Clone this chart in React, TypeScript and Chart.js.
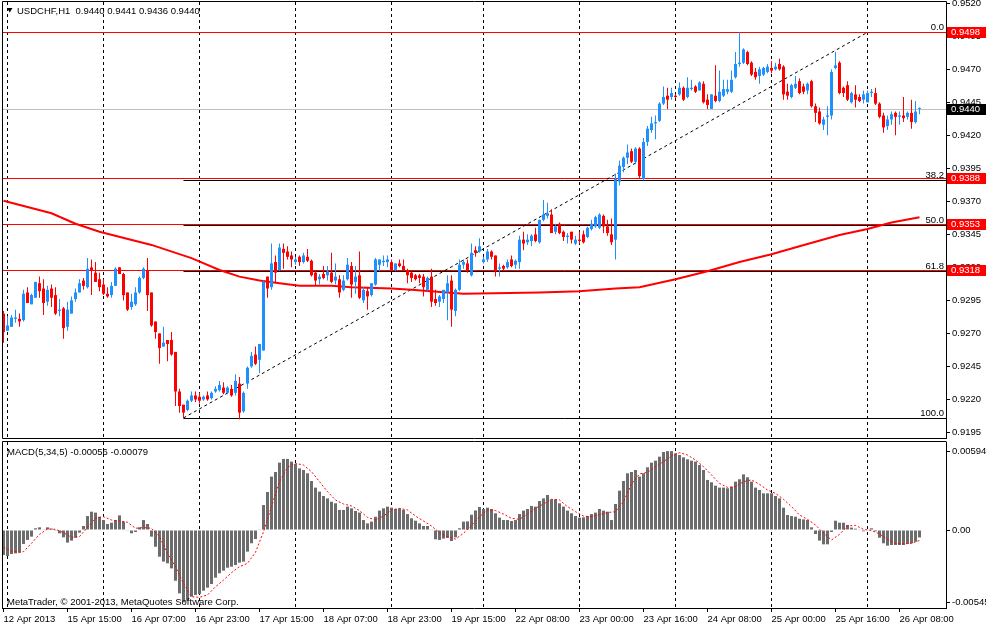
import React, { useEffect, useRef } from "react";
import { Chart, registerables } from "chart.js";

Chart.register(...registerables);

const FONT_FAMILY = '"Liberation Sans", Arial, sans-serif';
const FONT_SIZE = 9.5;

// ---------- price data (USDCHF H1), bar index 0 = 12 Apr 2013 23:00 ----------
const OPEN = [
  0.9285,0.9272,0.9275,0.9281,0.9281,0.9280,0.9301,0.9292,0.9297,0.9308,
  0.9304,0.9294,0.9304,0.9299,0.9287,0.9289,0.9275,0.9285,0.9296,0.9301,
  0.9310,0.9305,0.9320,0.9316,0.9311,0.9307,0.9300,0.9299,0.9306,0.9320,
  0.9315,0.9301,0.9290,0.9292,0.9301,0.9312,0.9318,0.9301,0.9279,0.9270,
  0.9260,0.9265,0.9265,0.9256,0.9226,0.9216,0.9212,0.9219,0.9223,0.9222,
  0.9220,0.9223,0.9221,0.9226,0.9227,0.9229,0.9225,0.9228,0.9225,0.9232,
  0.9211,0.9232,0.9245,0.9254,0.9250,0.9257,0.9313,0.9305,0.9324,0.9318,
  0.9334,0.9332,0.9329,0.9324,0.9328,0.9324,0.9328,0.9325,0.9316,0.9311,
  0.9315,0.9314,0.9316,0.9310,0.9311,0.9303,0.9311,0.9321,0.9309,0.9314,
  0.9295,0.9302,0.9299,0.9307,0.9322,0.9324,0.9324,0.9324,0.9318,0.9323,
  0.9321,0.9318,0.9316,0.9314,0.9314,0.9313,0.9303,0.9313,0.9296,0.9294,
  0.9296,0.9301,0.9310,0.9287,0.9303,0.9322,0.9323,0.9314,0.9333,0.9332,
  0.9324,0.9326,0.9332,0.9329,0.9319,0.9321,0.9320,0.9326,0.9322,0.9324,
  0.9341,0.9339,0.9340,0.9345,0.9339,0.9356,0.9359,0.9360,0.9347,0.9353,
  0.9347,0.9343,0.9347,0.9338,0.9341,0.9345,0.9343,0.9349,0.9351,0.9350,
  0.9359,0.9351,0.9345,0.9341,0.9385,0.9396,0.9403,0.9408,0.9400,0.9410,
  0.9387,0.9415,0.9424,0.9429,0.9431,0.9444,0.9450,0.9449,0.9450,0.9451,
  0.9456,0.9449,0.9455,0.9457,0.9454,0.9459,0.9447,0.9440,0.9450,0.9446,
  0.9450,0.9453,0.9453,0.9464,0.9474,0.9475,0.9483,0.9475,0.9468,0.9465,
  0.9466,0.9468,0.9471,0.9470,0.9474,0.9472,0.9453,0.9449,0.9456,0.9461,
  0.9457,0.9454,0.9461,0.9442,0.9438,0.9428,0.9434,0.9435,0.9471,0.9475,
  0.9456,0.9458,0.9445,0.9451,0.9449,0.9447,0.9445,0.9452,0.9452,0.9444,
  0.9435,0.9427,0.9432,0.9437,0.9434,0.9435,0.9434,0.9437,0.9430,0.9440,
];
const HIGH = [
  0.9287,0.9283,0.9284,0.9288,0.9285,0.9303,0.9305,0.9300,0.9309,0.9313,
  0.9311,0.9306,0.9307,0.9305,0.9296,0.9290,0.9294,0.9298,0.9304,0.9311,
  0.9312,0.9327,0.9326,0.9324,0.9316,0.9311,0.9305,0.9309,0.9320,0.9320,
  0.9316,0.9301,0.9300,0.9305,0.9313,0.9320,0.9327,0.9301,0.9279,0.9270,
  0.9275,0.9265,0.9271,0.9256,0.9228,0.9216,0.9220,0.9226,0.9226,0.9225,
  0.9223,0.9226,0.9226,0.9230,0.9234,0.9233,0.9230,0.9231,0.9239,0.9237,
  0.9226,0.9245,0.9256,0.9260,0.9262,0.9310,0.9313,0.9338,0.9329,0.9338,
  0.9338,0.9336,0.9332,0.9328,0.9329,0.9331,0.9334,0.9326,0.9317,0.9315,
  0.9321,0.9321,0.9331,0.9323,0.9314,0.9314,0.9327,0.9324,0.9321,0.9332,
  0.9305,0.9305,0.9308,0.9327,0.9326,0.9329,0.9329,0.9326,0.9323,0.9326,
  0.9326,0.9319,0.9317,0.9315,0.9315,0.9315,0.9313,0.9319,0.9303,0.9299,
  0.9303,0.9314,0.9314,0.9304,0.9326,0.9326,0.9326,0.9338,0.9336,0.9342,
  0.9328,0.9334,0.9333,0.9329,0.9323,0.9322,0.9326,0.9329,0.9326,0.9344,
  0.9347,0.9345,0.9345,0.9350,0.9356,0.9371,0.9369,0.9364,0.9353,0.9354,
  0.9348,0.9346,0.9347,0.9344,0.9347,0.9348,0.9351,0.9356,0.9359,0.9361,
  0.9360,0.9356,0.9357,0.9391,0.9401,0.9404,0.9413,0.9410,0.9411,0.9411,
  0.9418,0.9427,0.9434,0.9435,0.9445,0.9457,0.9456,0.9456,0.9451,0.9460,
  0.9457,0.9464,0.9462,0.9458,0.9461,0.9461,0.9451,0.9451,0.9473,0.9469,
  0.9462,0.9462,0.9469,0.9483,0.9498,0.9486,0.9484,0.9476,0.9471,0.9472,
  0.9472,0.9474,0.9476,0.9475,0.9478,0.9473,0.9459,0.9459,0.9465,0.9463,
  0.9459,0.9460,0.9462,0.9444,0.9441,0.9434,0.9442,0.9470,0.9483,0.9476,
  0.9457,0.9461,0.9453,0.9458,0.9451,0.9454,0.9454,0.9455,0.9456,0.9445,
  0.9437,0.9435,0.9438,0.9438,0.9438,0.9449,0.9438,0.9447,0.9446,0.9441,
];
const LOW = [
  0.9263,0.9272,0.9275,0.9278,0.9275,0.9279,0.9293,0.9292,0.9297,0.9297,
  0.9284,0.9291,0.9290,0.9284,0.9283,0.9266,0.9272,0.9285,0.9294,0.9301,
  0.9303,0.9304,0.9299,0.9309,0.9302,0.9299,0.9297,0.9297,0.9306,0.9315,
  0.9295,0.9287,0.9288,0.9291,0.9300,0.9311,0.9287,0.9275,0.9266,0.9247,
  0.9260,0.9249,0.9253,0.9215,0.9210,0.9206,0.9211,0.9218,0.9218,0.9217,
  0.9219,0.9219,0.9220,0.9225,0.9226,0.9224,0.9224,0.9222,0.9223,0.9205,
  0.9210,0.9228,0.9244,0.9246,0.9240,0.9257,0.9297,0.9303,0.9308,0.9317,
  0.9319,0.9326,0.9320,0.9322,0.9321,0.9323,0.9324,0.9313,0.9306,0.9307,
  0.9311,0.9310,0.9308,0.9307,0.9297,0.9302,0.9310,0.9297,0.9300,0.9296,
  0.9293,0.9288,0.9298,0.9306,0.9317,0.9321,0.9320,0.9317,0.9317,0.9320,
  0.9317,0.9308,0.9309,0.9310,0.9308,0.9298,0.9302,0.9290,0.9291,0.9290,
  0.9293,0.9280,0.9275,0.9283,0.9302,0.9319,0.9316,0.9313,0.9328,0.9331,
  0.9323,0.9324,0.9326,0.9313,0.9313,0.9318,0.9319,0.9320,0.9319,0.9319,
  0.9333,0.9337,0.9336,0.9339,0.9338,0.9355,0.9357,0.9346,0.9345,0.9345,
  0.9340,0.9338,0.9338,0.9337,0.9338,0.9338,0.9342,0.9348,0.9350,0.9349,
  0.9346,0.9344,0.9337,0.9326,0.9382,0.9392,0.9398,0.9399,0.9398,0.9387,
  0.9386,0.9412,0.9422,0.9417,0.9430,0.9443,0.9440,0.9447,0.9448,0.9450,
  0.9446,0.9448,0.9454,0.9452,0.9454,0.9444,0.9440,0.9440,0.9445,0.9445,
  0.9449,0.9451,0.9452,0.9463,0.9472,0.9474,0.9473,0.9465,0.9462,0.9459,
  0.9465,0.9467,0.9467,0.9469,0.9469,0.9447,0.9447,0.9448,0.9455,0.9451,
  0.9451,0.9451,0.9441,0.9430,0.9428,0.9424,0.9420,0.9432,0.9470,0.9451,
  0.9449,0.9446,0.9444,0.9441,0.9445,0.9444,0.9445,0.9449,0.9443,0.9433,
  0.9422,0.9424,0.9428,0.9420,0.9428,0.9430,0.9432,0.9425,0.9429,0.9436,
];
const CLOSE = [
  0.9271,0.9276,0.9282,0.9282,0.9279,0.9300,0.9293,0.9299,0.9309,0.9302,
  0.9293,0.9303,0.9297,0.9285,0.9288,0.9274,0.9288,0.9295,0.9301,0.9308,
  0.9306,0.9319,0.9318,0.9309,0.9305,0.9300,0.9298,0.9306,0.9319,0.9315,
  0.9299,0.9288,0.9294,0.9301,0.9312,0.9319,0.9299,0.9276,0.9271,0.9259,
  0.9263,0.9262,0.9254,0.9226,0.9215,0.9210,0.9219,0.9223,0.9220,0.9219,
  0.9222,0.9220,0.9225,0.9228,0.9231,0.9225,0.9229,0.9223,0.9234,0.9210,
  0.9225,0.9244,0.9253,0.9247,0.9262,0.9309,0.9304,0.9323,0.9316,0.9335,
  0.9331,0.9328,0.9326,0.9326,0.9324,0.9329,0.9325,0.9314,0.9310,0.9313,
  0.9312,0.9317,0.9309,0.9313,0.9301,0.9310,0.9322,0.9307,0.9313,0.9297,
  0.9303,0.9298,0.9308,0.9326,0.9326,0.9325,0.9326,0.9318,0.9323,0.9321,
  0.9318,0.9314,0.9312,0.9311,0.9312,0.9305,0.9312,0.9294,0.9293,0.9298,
  0.9303,0.9308,0.9288,0.9303,0.9322,0.9324,0.9318,0.9331,0.9331,0.9336,
  0.9326,0.9332,0.9328,0.9317,0.9320,0.9319,0.9324,0.9321,0.9325,0.9341,
  0.9338,0.9341,0.9344,0.9340,0.9356,0.9360,0.9361,0.9346,0.9351,0.9346,
  0.9343,0.9344,0.9341,0.9341,0.9340,0.9339,0.9350,0.9353,0.9358,0.9360,
  0.9351,0.9346,0.9339,0.9387,0.9397,0.9403,0.9407,0.9400,0.9410,0.9389,
  0.9415,0.9425,0.9429,0.9430,0.9444,0.9449,0.9447,0.9452,0.9449,0.9456,
  0.9447,0.9456,0.9456,0.9453,0.9460,0.9445,0.9443,0.9451,0.9446,0.9453,
  0.9455,0.9455,0.9462,0.9474,0.9475,0.9485,0.9474,0.9466,0.9464,0.9470,
  0.9471,0.9472,0.9469,0.9472,0.9470,0.9451,0.9450,0.9458,0.9459,0.9452,
  0.9453,0.9459,0.9442,0.9437,0.9429,0.9432,0.9435,0.9468,0.9473,0.9452,
  0.9452,0.9447,0.9452,0.9447,0.9446,0.9451,0.9452,0.9453,0.9444,0.9434,
  0.9426,0.9432,0.9436,0.9434,0.9435,0.9433,0.9437,0.9430,0.9438,0.9440,
];

// moving average (red), read at sampled bars
const MA_BARS = [0, 12, 18, 24, 37, 47, 54, 59, 64, 69, 74, 82, 87, 97, 102, 115, 134, 144, 153, 159, 168, 176, 184, 192, 199, 209, 216, 222, 229];
const MA_VALUES = [0.93705, 0.9361, 0.9353, 0.9347, 0.9337, 0.9327, 0.9318, 0.9313, 0.9310, 0.9308, 0.9306, 0.9306, 0.9305, 0.9304, 0.9303, 0.9300, 0.9301, 0.9302, 0.9304, 0.9305, 0.9311, 0.9317, 0.9324, 0.9330, 0.9336, 0.93445, 0.9349, 0.9354, 0.9358];

// MACD(5,34,5) histogram, one value per bar
const MACD_HIST = [
  -0.00188,-0.00196,-0.00181,-0.00176,-0.00171,-0.00105,-0.00075,-0.00050,0.00013,0.00020,
  0.00005,0.00020,0.00010,-0.00002,-0.00025,-0.00055,-0.00095,-0.00080,-0.00058,-0.00020,
  0.00030,0.00105,0.00138,0.00131,0.00100,0.00075,0.00045,0.00055,0.00075,0.00110,
  0.00063,-0.00005,-0.00025,-0.00015,0.00020,0.00075,0.00045,-0.00050,-0.00126,-0.00201,
  -0.00238,-0.00251,-0.00289,-0.00382,-0.00477,-0.00545,-0.00532,-0.00502,-0.00489,-0.00482,
  -0.00457,-0.00434,-0.00407,-0.00359,-0.00326,-0.00306,-0.00284,-0.00276,-0.00264,-0.00246,
  -0.00238,-0.00163,-0.00100,-0.00068,0.00005,0.00188,0.00286,0.00402,0.00437,0.00507,
  0.00535,0.00535,0.00515,0.00497,0.00464,0.00452,0.00427,0.00369,0.00319,0.00289,
  0.00256,0.00238,0.00213,0.00201,0.00151,0.00151,0.00176,0.00163,0.00143,0.00131,
  0.00075,0.00050,0.00063,0.00100,0.00146,0.00163,0.00176,0.00168,0.00158,0.00163,
  0.00151,0.00120,0.00088,0.00070,0.00050,0.00030,0.00030,0.00005,-0.00070,-0.00075,
  -0.00065,-0.00060,-0.00083,-0.00055,0.00013,0.00063,0.00065,0.00115,0.00147,0.00173,
  0.00158,0.00168,0.00158,0.00126,0.00093,0.00075,0.00075,0.00068,0.00075,0.00120,
  0.00146,0.00158,0.00181,0.00176,0.00218,0.00238,0.00264,0.00231,0.00231,0.00201,
  0.00176,0.00146,0.00126,0.00105,0.00093,0.00095,0.00105,0.00120,0.00131,0.00158,
  0.00146,0.00138,0.00075,0.00196,0.00296,0.00369,0.00427,0.00437,0.00452,0.00402,
  0.00427,0.00472,0.00507,0.00522,0.00552,0.00587,0.00594,0.00594,0.00577,0.00565,
  0.00547,0.00532,0.00522,0.00515,0.00489,0.00452,0.00377,0.00359,0.00334,0.00319,
  0.00319,0.00314,0.00326,0.00364,0.00382,0.00419,0.00397,0.00364,0.00319,0.00301,
  0.00276,0.00276,0.00276,0.00256,0.00238,0.00168,0.00113,0.00105,0.00100,0.00085,
  0.00080,0.00075,0.00020,-0.00030,-0.00080,-0.00108,-0.00108,-0.00015,0.00070,0.00055,
  0.00055,0.00038,0.00018,0.00010,0.00005,-0.00010,-0.00003,0.00013,-0.00010,-0.00058,
  -0.00100,-0.00118,-0.00113,-0.00113,-0.00113,-0.00113,-0.00105,-0.00100,-0.00088,-0.00056,
];

// MACD signal line, read at sampled bars
const SIGNAL_BARS = [0,2,4,5,7,9,11,13,15,17,19,21,23,25,27,29,31,33,35,37,39,41,43,45,47,49,51,53,55,57,59,61,63,65,67,69,71,73,75,77,79,81,83,85,87,89,91,93,95,97,99,101,103,105,107,109,111,113,115,117,119,121,123,125,127,129,131,133,135,137,139,141,143,145,147,149,151,153,155,157,159,161,163,165,167,169,171,173,175,177,179,181,183,185,187,189,191,193,195,197,199,201,203,205,207,209,211,213,215,217,219,221,223,225,227,229];
const SIGNAL_VALUES = [-0.00131,-0.00158,-0.00168,-0.00163,-0.00100,-0.00033,0.00008,0.00005,-0.00020,-0.00055,-0.00050,0.00020,0.00088,0.00100,0.00075,0.00068,0.00058,0.00013,0.00018,0.00013,-0.00050,-0.00176,-0.00276,-0.00402,-0.00502,-0.00507,-0.00489,-0.00427,-0.00377,-0.00321,-0.00276,-0.00251,-0.00168,-0.00013,0.00176,0.00364,0.00472,0.00502,0.00489,0.00439,0.00364,0.00289,0.00226,0.00196,0.00181,0.00146,0.00095,0.00075,0.00105,0.00151,0.00163,0.00151,0.00105,0.00068,0.00030,-0.00020,-0.00050,-0.00068,-0.00025,0.00035,0.00100,0.00151,0.00146,0.00120,0.00088,0.00080,0.00120,0.00163,0.00196,0.00231,0.00226,0.00176,0.00138,0.00105,0.00100,0.00115,0.00131,0.00138,0.00213,0.00346,0.00422,0.00434,0.00477,0.00515,0.00557,0.00582,0.00565,0.00527,0.00477,0.00414,0.00351,0.00321,0.00326,0.00364,0.00377,0.00344,0.00301,0.00276,0.00231,0.00176,0.00113,0.00080,0.00038,-0.00025,-0.00075,-0.00033,0.00030,0.00035,0.00005,-0.00003,-0.00030,-0.00070,-0.00100,-0.00105,-0.00100,-0.00079];

// axes
const DAY_START_BARS = [1, 25, 49, 73, 97, 120, 144, 168, 192, 216];
const TIME_TICK_BARS = [0, 16, 32, 48, 64, 80, 96, 112, 128, 144, 160, 176, 192, 208, 224];
const TIME_LABELS = ["12 Apr 2013", "15 Apr 15:00", "16 Apr 07:00", "16 Apr 23:00", "17 Apr 15:00", "18 Apr 07:00", "18 Apr 23:00", "19 Apr 15:00", "22 Apr 08:00", "23 Apr 00:00", "23 Apr 16:00", "24 Apr 08:00", "25 Apr 00:00", "25 Apr 16:00", "26 Apr 08:00"];
const PRICE_TICKS = [0.9195, 0.9220, 0.9245, 0.9270, 0.9295, 0.9320, 0.9345, 0.9370, 0.9395, 0.9420, 0.9445, 0.9470, 0.9495, 0.9520];
const MACD_TICKS = [-0.00545, 0, 0.00594];

// objects
const HLINE_PRICES = [0.9498, 0.9388, 0.9353, 0.9318];
const FIB_LEVELS = [0.9498, 0.93865, 0.9352, 0.93175, 0.9206];
const FIB_LABELS = ["0.0", "38.2", "50.0", "61.8", "100.0"];
const FIB_START_BAR = 45;
const FIB_TREND_BARS = [45, 216];
const FIB_TREND_PRICES = [0.9206, 0.9498];
const BID_PRICE = 0.9440;
const TAG_PRICES = [0.9498, 0.9388, 0.9353, 0.9318, 0.9440];
const TAG_COLORS = ["#ff0000", "#ff0000", "#ff0000", "#ff0000", "#000000"];

const HEADER = "USDCHF,H1  0.9440 0.9441 0.9436 0.9440";
const MACD_TITLE = "MACD(5,34,5) -0.00056 -0.00079";
const COPYRIGHT = "MetaTrader, \u00A9 2001-2013, MetaQuotes Software Corp.";

const X_MIN = -0.375;
const X_MAX = 235.625;
const PRICE_MIN = 0.919079;
const PRICE_MAX = 0.952095;
const MACD_MIN = -0.005873;
const MACD_MAX = 0.006626;

const BULL = "#1e90ff";
const BEAR = "#ff0000";

const font = `${FONT_SIZE}px ${FONT_FAMILY}`;

const fixY = (w: number) => (scale: any) => {
  scale.width = w;
  scale.paddingTop = 0;
  scale.paddingBottom = 0;
};
const fixX = (h: number) => (scale: any) => {
  scale.height = h;
  scale.paddingLeft = 0;
  scale.paddingRight = 0;
};
const setTicks = (values: number[]) => (scale: any) => {
  scale.ticks = values.map((v) => ({ value: v }));
};

const hline = (y: number, x0: number, color: string, order: number) => ({
  type: "line",
  data: [{ x: x0, y }, { x: X_MAX, y }],
  borderColor: color,
  borderWidth: 1,
  pointRadius: 0,
  fill: false,
  order,
  snapY: true,
  xAxisID: "x",
  yAxisID: "y",
});

// keeps 1px horizontal object lines on whole pixel rows
const snapPlugin = {
  id: "snapLines",
  beforeDatasetDraw(chart: any, args: any) {
    const ds = chart.data.datasets[args.index];
    if (!ds.snapY) return;
    const y = chart.scales.y.getPixelForValue(ds.data[0].y);
    chart.ctx.save();
    chart.ctx.translate(0, Math.round(y) + 0.5 - y);
  },
  afterDatasetDraw(chart: any, args: any) {
    const ds = chart.data.datasets[args.index];
    if (ds.snapY) chart.ctx.restore();
  },
};

const dayGridAxis = () => ({
  type: "linear",
  position: "top",
  min: X_MIN,
  max: X_MAX,
  offset: false,
  grid: { display: true, color: "#000", lineWidth: 1, drawTicks: false, drawOnChartArea: true, offset: false },
  border: { display: false, dash: [3, 3] },
  ticks: { display: false },
  afterBuildTicks: setTicks(DAY_START_BARS),
  afterFit: fixX(0),
});

function mainConfig(): any {
  const colors = OPEN.map((o, i) => (CLOSE[i] >= o ? BULL : BEAR));
  const bodies = {
    type: "bar",
    data: OPEN.map((o, i) => ({ x: i, y: [o, CLOSE[i]] })),
    backgroundColor: colors,
    borderWidth: 0,
    barThickness: 3,
    grouped: false,
    inflateAmount: 0,
    minBarLength: 1,
    order: 0,
    xAxisID: "x",
    yAxisID: "y",
  };
  const wicks = {
    type: "bar",
    data: LOW.map((l, i) => ({ x: i, y: [l, HIGH[i]] })),
    backgroundColor: colors,
    borderWidth: 0,
    barThickness: 1,
    grouped: false,
    inflateAmount: 0,
    minBarLength: 1,
    order: 1,
    xAxisID: "x",
    yAxisID: "y",
  };
  const ma = {
    type: "line",
    data: MA_BARS.map((b, k) => ({ x: b, y: MA_VALUES[k] })),
    borderColor: "#ff0000",
    borderWidth: 2,
    pointRadius: 0,
    tension: 0,
    fill: false,
    order: 2,
    xAxisID: "x",
    yAxisID: "y",
  };
  const trend = {
    type: "line",
    data: FIB_TREND_BARS.map((b, k) => ({ x: b, y: FIB_TREND_PRICES[k] })),
    borderColor: "#000",
    borderWidth: 1,
    borderDash: [3, 3],
    pointRadius: 0,
    fill: false,
    order: 3,
    xAxisID: "x",
    yAxisID: "y",
  };
  const redLines = HLINE_PRICES.map((p) => hline(p, X_MIN, "#ff0000", 5));
  const fibLines = FIB_LEVELS.map((p) => hline(p, FIB_START_BAR, "#000000", 6));
  const bid = hline(BID_PRICE, X_MIN, "#c0c0c0", 7);

  const overlay = {
    id: "mainOverlay",
    afterDraw(chart: any) {
      const ctx = chart.ctx;
      const { left, right, top, bottom } = chart.chartArea;
      const ys = chart.scales.y;
      ctx.save();
      ctx.setLineDash([]);
      ctx.strokeStyle = "#000";
      ctx.lineWidth = 1;
      ctx.beginPath();
      ctx.moveTo(left + 0.5, top - 0.5);
      ctx.lineTo(right + 0.5, top - 0.5);
      ctx.moveTo(left + 0.5, top - 0.5);
      ctx.lineTo(left + 0.5, bottom + 0.5);
      ctx.lineTo(right + 0.5, bottom + 0.5);
      ctx.lineTo(right + 0.5, top - 0.5);
      ctx.stroke();

      ctx.font = font;
      ctx.fillStyle = "#000";
      ctx.textAlign = "right";
      ctx.textBaseline = "alphabetic";
      FIB_LEVELS.forEach((p, k) => {
        const y = Math.round(ys.getPixelForValue(p));
        ctx.fillText(FIB_LABELS[k], right - 2, y - 2);
      });
      ctx.textAlign = "left";
      ctx.textBaseline = "middle";
      TAG_PRICES.forEach((p, k) => {
        const y = Math.round(ys.getPixelForValue(p));
        ctx.fillStyle = TAG_COLORS[k];
        ctx.fillRect(right + 1, y - 5, 40, 11);
        ctx.fillStyle = "#fff";
        ctx.fillText(p.toFixed(4), right + 5, y + 0.5);
      });
      ctx.fillStyle = "#000";
      ctx.beginPath();
      ctx.moveTo(7, 8);
      ctx.lineTo(12.5, 8);
      ctx.lineTo(9.75, 12.5);
      ctx.closePath();
      ctx.fill();
      ctx.fillText(HEADER, 17, 11);
      ctx.restore();
    },
  };

  return {
    type: "bar",
    data: { datasets: [bodies, wicks, ma, trend, ...redLines, ...fibLines, bid] },
    options: {
      responsive: false,
      animation: false,
      events: [],
      layout: { padding: { left: 2, top: 2, right: 0, bottom: 2 } },
      plugins: { legend: { display: false }, tooltip: { enabled: false } },
      scales: {
        x: {
          type: "linear",
          position: "bottom",
          min: X_MIN,
          max: X_MAX,
          offset: false,
          grid: { display: false, offset: false, drawTicks: false },
          border: { display: false },
          ticks: { display: false },
          afterFit: fixX(0),
        },
        xg: dayGridAxis(),
        y: {
          type: "linear",
          position: "right",
          min: PRICE_MIN,
          max: PRICE_MAX,
          grid: { drawOnChartArea: false, drawTicks: true, tickLength: 4, color: "#000" },
          border: { display: true, color: "#000" },
          ticks: {
            color: "#000",
            font: { family: FONT_FAMILY, size: FONT_SIZE },
            padding: 2,
            autoSkip: false,
            callback: (v: any) => Number(v).toFixed(4),
          },
          afterBuildTicks: setTicks(PRICE_TICKS),
          afterFit: fixY(40),
        },
      },
    },
    plugins: [snapPlugin, overlay],
  };
}

function macdConfig(): any {
  const hist = {
    type: "bar",
    data: MACD_HIST.map((v, i) => ({ x: i, y: v })),
    backgroundColor: "#6c6c6c",
    borderWidth: 0,
    barThickness: 3,
    grouped: false,
    inflateAmount: 0,
    order: 1,
    xAxisID: "x",
    yAxisID: "y",
  };
  const signal = {
    type: "line",
    data: SIGNAL_BARS.map((b, k) => ({ x: b, y: SIGNAL_VALUES[k] })),
    borderColor: "#ff0000",
    borderWidth: 1,
    borderDash: [2, 2],
    pointRadius: 0,
    tension: 0,
    fill: false,
    order: 0,
    xAxisID: "x",
    yAxisID: "y",
  };
  const overlay = {
    id: "macdOverlay",
    afterDraw(chart: any) {
      const ctx = chart.ctx;
      const { left, right, top, bottom } = chart.chartArea;
      ctx.save();
      ctx.setLineDash([]);
      ctx.strokeStyle = "#000";
      ctx.lineWidth = 1;
      ctx.beginPath();
      ctx.moveTo(left + 0.5, bottom + 0.5);
      ctx.lineTo(left + 0.5, top - 0.5);
      ctx.lineTo(right + 0.5, top - 0.5);
      ctx.stroke();
      ctx.font = font;
      ctx.fillStyle = "#000";
      ctx.textAlign = "left";
      ctx.textBaseline = "middle";
      ctx.fillText(MACD_TITLE, 7, 12);
      ctx.fillText(COPYRIGHT, 7, 162);
      ctx.restore();
    },
  };
  return {
    type: "bar",
    data: { datasets: [hist, signal] },
    options: {
      responsive: false,
      animation: false,
      events: [],
      layout: { padding: { left: 2, top: 2, right: 0, bottom: 0 } },
      plugins: { legend: { display: false }, tooltip: { enabled: false } },
      scales: {
        x: {
          type: "linear",
          position: "bottom",
          min: X_MIN,
          max: X_MAX,
          offset: false,
          grid: { display: true, drawOnChartArea: false, drawTicks: true, tickLength: 4, color: "#000", offset: false },
          border: { display: true, color: "#000" },
          ticks: {
            color: "#000",
            font: { family: FONT_FAMILY, size: FONT_SIZE },
            padding: 2,
            align: "start",
            maxRotation: 0,
            autoSkip: false,
            callback: (_v: any, index: number) => TIME_LABELS[index],
          },
          afterBuildTicks: setTicks(TIME_TICK_BARS),
          afterFit: fixX(19),
        },
        xg: dayGridAxis(),
        y: {
          type: "linear",
          position: "right",
          min: MACD_MIN,
          max: MACD_MAX,
          grid: { drawOnChartArea: false, drawTicks: true, tickLength: 4, color: "#000" },
          border: { display: true, color: "#000" },
          ticks: {
            color: "#000",
            font: { family: FONT_FAMILY, size: FONT_SIZE },
            padding: 2,
            autoSkip: false,
            callback: (v: any) => (Number(v) === 0 ? "0.00" : Number(v).toFixed(5)),
          },
          afterBuildTicks: setTicks(MACD_TICKS),
          afterFit: fixY(40),
        },
      },
    },
    plugins: [overlay],
  };
}

export default function App() {
  const mainRef = useRef<HTMLCanvasElement>(null);
  const macdRef = useRef<HTMLCanvasElement>(null);

  useEffect(() => {
    const main = new Chart(mainRef.current as HTMLCanvasElement, mainConfig());
    const macd = new Chart(macdRef.current as HTMLCanvasElement, macdConfig());
    return () => {
      main.destroy();
      macd.destroy();
    };
  }, []);

  return (
    <div
      style={{
        position: "fixed",
        left: 0,
        top: 0,
        width: 986,
        height: 627,
        background: "#ffffff",
        overflow: "hidden",
      }}
    >
      <canvas
        ref={mainRef}
        width={986}
        height={440}
        style={{ position: "absolute", left: 0, top: 0, width: 986, height: 440 }}
      />
      <canvas
        ref={macdRef}
        width={986}
        height={187}
        style={{ position: "absolute", left: 0, top: 440, width: 986, height: 187 }}
      />
    </div>
  );
}
